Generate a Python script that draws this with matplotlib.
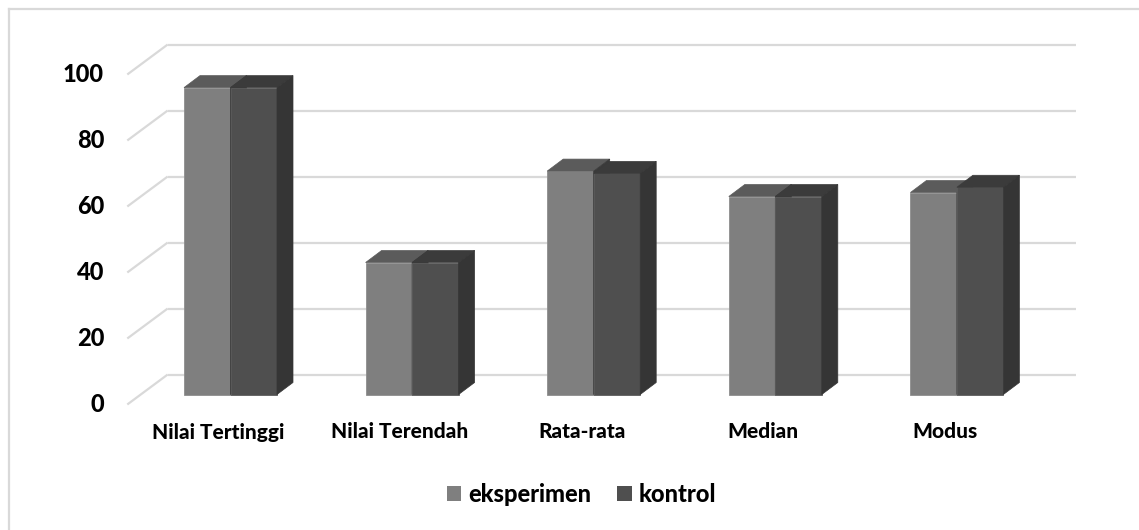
import matplotlib
matplotlib.use("Agg")
import matplotlib.pyplot as plt
from matplotlib.patches import Polygon, Patch
from matplotlib.lines import Line2D

# ---- data -------------------------------------------------------------
categories = ["Nilai Tertinggi", "Nilai Terendah", "Rata-rata", "Median", "Modus"]
series_names = ["eksperimen", "kontrol"]
eksperimen = [93, 40, 67.7, 60, 61.2]
kontrol = [93, 40, 67.0, 60, 62.8]
y_ticks = [0, 20, 40, 60, 80, 100]

# ---- styling ------------------------------------------------------------
front_colors = ["#7f7f7f", "#4f4f4f"]
top_colors = ["#5b5b5b", "#3b3b3b"]
side_colors = ["#3a3a3a", "#353535"]
edge_colors = ["#8e8e8e", "#5c5c5c"]
grid_color = "#d9d9d9"
FONT = "Lato"
WEIGHT = 900

# ---- layout (pixel geometry of the pseudo-3D projection) ---------------
W, H, DPI = 1139, 530, 100
PITCH = 181.6   # px between category centres
X0 = 230.5      # px, centre of first category on the bar front plane
BASE = 394.5    # px from top, value 0 on the bar front plane
PPU = 3.3       # px per value unit
BAR_W = 46.5    # px, width of one bar front
DEPTH = (16.0, 12.0)      # px offset of bar back face (right, up)
WALL_UP = 20.0            # px the back wall sits above the bar front plane
WALL_X = (167.7, 1076.0)  # px extent of the back wall
SIDE_X = 127.3            # px, front end of the slanted side-wall lines
FLOOR_FRONT = 10.0        # px the floor reaches in front of the bars (down)


def xd(px):
    return (px - X0) / PITCH


def yd(py):
    return (BASE - py) / PPU


def ddx(px):
    return px / PITCH


def ddy(px):
    return px / PPU


fig = plt.figure(figsize=(W / DPI, H / DPI), dpi=DPI)
fig.patch.set_facecolor("white")
ax = fig.add_axes([0, 0, 1, 1])
ax.set_xlim(xd(0), xd(W))
ax.set_ylim(yd(H), yd(0))
ax.axis("off")

# chart frame (left and top edges)
ax.add_line(Line2D([xd(9), xd(9)], [yd(H), yd(9)], color=grid_color, lw=1.6))
ax.add_line(Line2D([xd(9), xd(W)], [yd(9), yd(9)], color=grid_color, lw=1.6))

# back-wall gridlines, slanted side-wall lines and value labels
for v in y_ticks:
    yw = v + ddy(WALL_UP)
    ax.plot([xd(WALL_X[0]), xd(WALL_X[1])], [yw, yw], color=grid_color,
            lw=1.6, zorder=1, solid_capstyle="butt")
    ax.plot([xd(WALL_X[0]), xd(SIDE_X)], [yw, v - ddy(FLOOR_FRONT)],
            color=grid_color, lw=1.6, zorder=1, solid_capstyle="butt")
    ax.text(xd(104), v - ddy(FLOOR_FRONT), f"{v}", ha="right", va="center",
            fontsize=17, fontweight=WEIGHT, family=FONT, color="black")

# bars: front face, top face and right side face
bw = ddx(BAR_W)
ox, oy = ddx(DEPTH[0]), ddy(DEPTH[1])
z = 3
for i, cat in enumerate(categories):
    for s, vals in enumerate([eksperimen, kontrol]):
        v = vals[i]
        left = i - bw + s * bw
        ax.bar(left, v, width=bw, align="edge", color=front_colors[s],
               edgecolor=edge_colors[s], linewidth=0.6, zorder=z)
        top = Polygon([(left, v), (left + ox, v + oy), (left + bw + ox, v + oy),
                       (left + bw, v)], closed=True, facecolor=top_colors[s],
                      edgecolor=top_colors[s], linewidth=0.5, zorder=z)
        side = Polygon([(left + bw, 0), (left + bw + ox, oy),
                        (left + bw + ox, v + oy), (left + bw, v)], closed=True,
                       facecolor=side_colors[s], edgecolor=side_colors[s],
                       linewidth=0.5, zorder=z)
        ax.add_patch(top)
        ax.add_patch(side)
        z += 1
    ax.text(i + ddx(-12), yd(432), cat, ha="center", va="center",
            fontsize=15, fontweight=WEIGHT, family=FONT, color="black")

# legend
handles = [Patch(facecolor=front_colors[k], edgecolor="none") for k in range(2)]
fig.legend(handles, series_names, loc="center",
           bbox_to_anchor=(581.5 / W, 1 - 494 / H), ncol=2, frameon=False,
           prop={"family": FONT, "weight": WEIGHT, "size": 17},
           handlelength=0.62, handleheight=0.62, handletextpad=0.3,
           columnspacing=1.1, borderpad=0.2)

fig.savefig("out.png", dpi=DPI, facecolor="white")
